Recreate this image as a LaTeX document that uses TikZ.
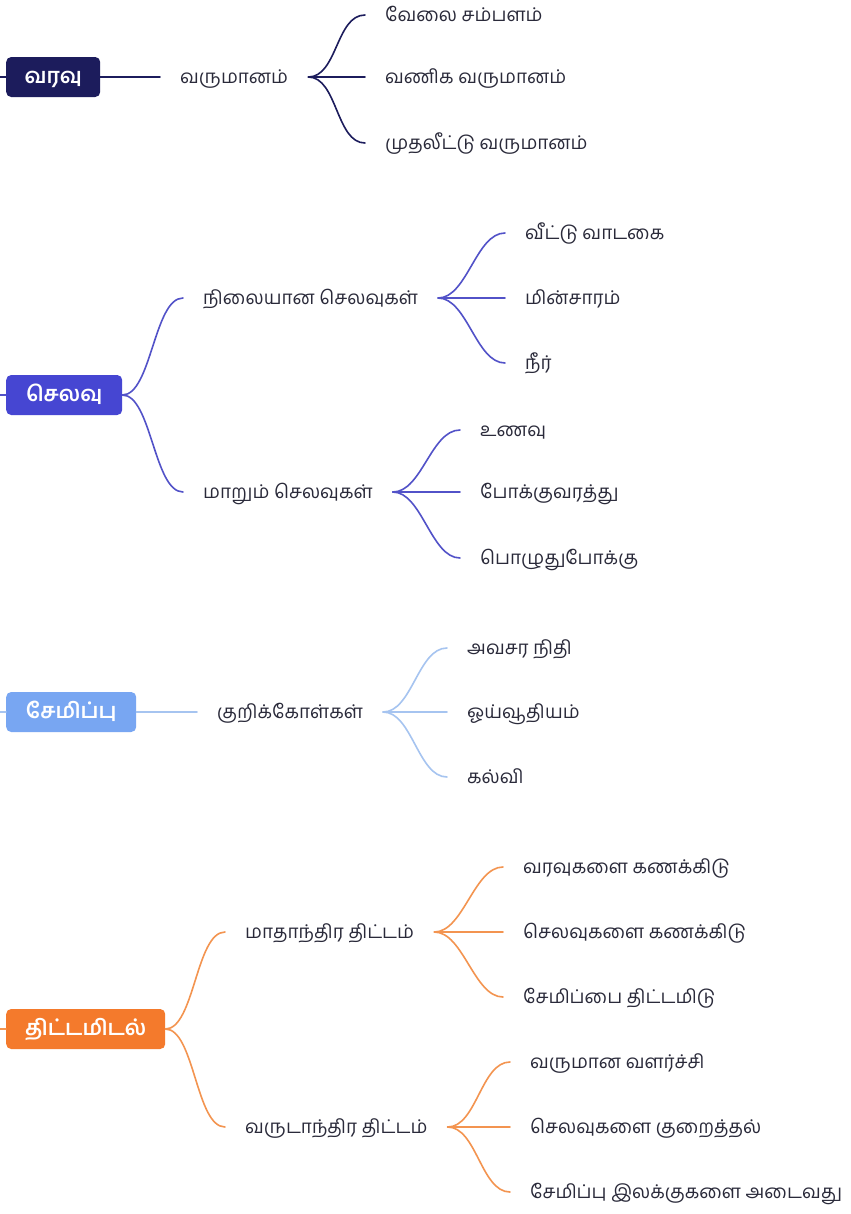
\documentclass[tikz,border=0pt]{standalone}
\usepackage{fontspec}
\newfontfamily\tamil[Script=Tamil]{Hind Madurai}
\newfontfamily\tamilb[Script=Tamil]{Hind Madurai SemiBold}
\usetikzlibrary{calc}
\definecolor{cnavy}{HTML}{1C1C5C}
\definecolor{cindigo}{HTML}{4646D2}
\definecolor{cindigoL}{HTML}{5252C8}
\definecolor{clblue}{HTML}{78A6F2}
\definecolor{clblueL}{HTML}{A6C4F0}
\definecolor{corange}{HTML}{F47A2C}
\definecolor{corangeL}{HTML}{F39450}
\definecolor{ctxt}{HTML}{2A2A3A}
\tikzset{
  rootbox/.style={rounded corners=5bp, minimum height=40bp, text=white, anchor=west, inner sep=0pt,
    text height=1.35em, text depth=0em, font=\tamilb\fontsize{21.5}{24}\selectfont},
  midtxt/.style={anchor=west, inner xsep=20bp, inner ysep=0pt, text=ctxt, text height=1.35em, text depth=0em,
    font=\tamil\fontsize{19}{22}\selectfont},
  leaftxt/.style={midtxt},
  conn/.style={line width=1.6bp, line cap=round},
}
\newcommand{\brc}[3]{\draw[conn,#1] (#2) .. controls +(29,0) and +(-29,0) .. (#3);}
\begin{document}
\begin{tikzpicture}[x=1bp,y=-1bp]
\useasboundingbox[fill=white] (0,0) rectangle (851,1214);

% ---------- varavu ----------
\node[rootbox, fill=cnavy, minimum width=94bp] (r1) at (6,77) {வரவு};
\coordinate (s1) at (0,77);
\draw[conn,cnavy] (s1) -- (r1.west);
\node[midtxt] (m1) at (160,77) {வருமானம்};
\draw[conn,cnavy] (r1.east) -- (m1.west);
\node[leaftxt] (l11) at (365,15) {வேலை சம்பளம்};
\node[leaftxt] (l12) at (365,77) {வணிக வருமானம்};
\node[leaftxt] (l13) at (365,143) {முதலீட்டு வருமானம்};
\brc{cnavy}{m1.east}{l11.west}
\draw[conn,cnavy] (m1.east) -- (l12.west);
\brc{cnavy}{m1.east}{l13.west}

% ---------- selavu ----------
\node[rootbox, fill=cindigo, minimum width=116bp] (r2) at (6,395) {செலவு};
\coordinate (s2) at (0,395);
\draw[conn,cindigoL] (s2) -- (r2.west);
\node[midtxt] (m21) at (183,298) {நிலையான செலவுகள்};
\node[midtxt] (m22) at (183,492) {மாறும் செலவுகள்};
\brc{cindigoL}{r2.east}{m21.west}
\brc{cindigoL}{r2.east}{m22.west}
\node[leaftxt] (l211) at (505,233) {வீட்டு வாடகை};
\node[leaftxt] (l212) at (505,298) {மின்சாரம்};
\node[leaftxt] (l213) at (505,363) {நீர்};
\brc{cindigoL}{m21.east}{l211.west}
\draw[conn,cindigoL] (m21.east) -- (l212.west);
\brc{cindigoL}{m21.east}{l213.west}
\node[leaftxt] (l221) at (460,430) {உணவு};
\node[leaftxt] (l222) at (460,492) {போக்குவரத்து};
\node[leaftxt] (l223) at (460,558) {பொழுதுபோக்கு};
\brc{cindigoL}{m22.east}{l221.west}
\draw[conn,cindigoL] (m22.east) -- (l222.west);
\brc{cindigoL}{m22.east}{l223.west}

% ---------- semippu ----------
\node[rootbox, fill=clblue, minimum width=130bp] (r3) at (6,712) {சேமிப்பு};
\coordinate (s3) at (0,712);
\draw[conn,clblueL] (s3) -- (r3.west);
\node[midtxt] (m3) at (197,712) {குறிக்கோள்கள்};
\draw[conn,clblueL] (r3.east) -- (m3.west);
\node[leaftxt] (l31) at (447,648) {அவசர நிதி};
\node[leaftxt] (l32) at (447,712) {ஓய்வூதியம்};
\node[leaftxt] (l33) at (447,777) {கல்வி};
\brc{clblueL}{m3.east}{l31.west}
\draw[conn,clblueL] (m3.east) -- (l32.west);
\brc{clblueL}{m3.east}{l33.west}

% ---------- thittamidal ----------
\node[rootbox, fill=corange, minimum width=159bp] (r4) at (6,1029) {திட்டமிடல்};
\coordinate (s4) at (0,1029);
\draw[conn,corangeL] (s4) -- (r4.west);
\node[midtxt] (m41) at (225,932) {மாதாந்திர திட்டம்};
\node[midtxt] (m42) at (225,1127) {வருடாந்திர திட்டம்};
\brc{corangeL}{r4.east}{m41.west}
\brc{corangeL}{r4.east}{m42.west}
\node[leaftxt] (l411) at (503,867) {வரவுகளை கணக்கிடு};
\node[leaftxt] (l412) at (503,932) {செலவுகளை கணக்கிடு};
\node[leaftxt] (l413) at (503,997) {சேமிப்பை திட்டமிடு};
\brc{corangeL}{m41.east}{l411.west}
\draw[conn,corangeL] (m41.east) -- (l412.west);
\brc{corangeL}{m41.east}{l413.west}
\node[leaftxt] (l421) at (510,1062) {வருமான வளர்ச்சி};
\node[leaftxt] (l422) at (510,1127) {செலவுகளை குறைத்தல்};
\node[leaftxt] (l423) at (510,1192) {சேமிப்பு இலக்குகளை அடைவது};
\brc{corangeL}{m42.east}{l421.west}
\draw[conn,corangeL] (m42.east) -- (l422.west);
\brc{corangeL}{m42.east}{l423.west}
\end{tikzpicture}
\end{document}
